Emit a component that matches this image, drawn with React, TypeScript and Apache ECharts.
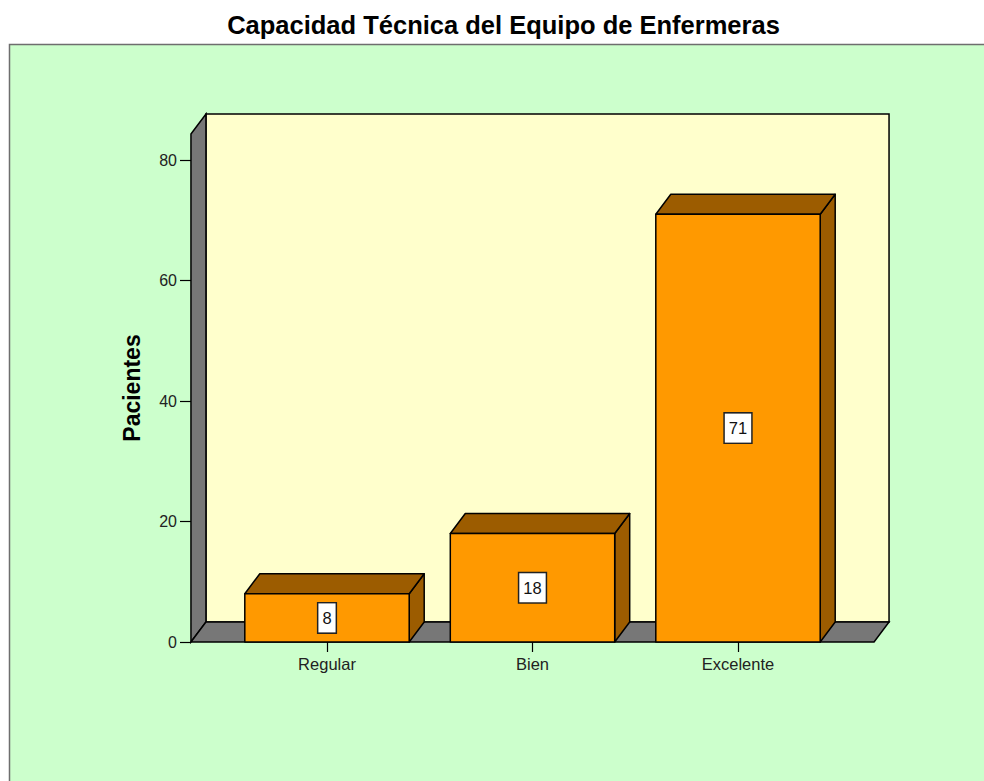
import React, { useEffect, useRef } from "react";
import * as echarts from "echarts";

const categories = ["Regular", "Bien", "Excelente"];
const values = [8, 18, 71];
const yMin = 0;
const yMax = 80;
const yInterval = 20;
const titleText = "Capacidad Técnica del Equipo de Enfermeras";
const yName = "Pacientes";

const DX = 15;
const DY = 20;
const FONT = '"Liberation Sans", Arial, sans-serif';

export default function App() {
  const ref = useRef<HTMLDivElement>(null);
  useEffect(() => {
    if (!ref.current) return;
    const chart = echarts.init(ref.current, null, { renderer: "svg" });
    const gridLeft = 224.25;
    const gridRight = 143.25;
    const option: any = {
      animation: false,
      backgroundColor: "#ffffff",
      graphic: [
        {
          type: "rect",
          z: -10,
          shape: { x: 9.5, y: 44.5, width: 1100, height: 900 },
          style: { fill: "#ccffcc", stroke: "#6e6e6e", lineWidth: 1.5 },
        },
        {
          type: "text",
          z: 20,
          x: 503.5,
          y: 25,
          style: {
            text: titleText,
            align: "center",
            verticalAlign: "middle",
            font: `bold 25.5px ${FONT}`,
            fill: "#000",
          },
        },
        {
          type: "text",
          z: 20,
          x: 131.5,
          y: 388,
          rotation: Math.PI / 2,
          style: {
            text: yName,
            align: "center",
            verticalAlign: "middle",
            font: `bold 23px ${FONT}`,
            fill: "#000",
          },
        },
      ],
      grid: { left: gridLeft, right: gridRight, top: 160, bottom: 139 },
      xAxis: {
        type: "category",
        data: categories,
        boundaryGap: true,
        axisLine: { show: false },
        axisTick: { show: true, alignWithLabel: true, length: 10, lineStyle: { color: "#000", width: 1.2 } },
        axisLabel: { color: "#222", fontFamily: FONT, fontSize: 16.5, margin: 13 },
        z: 10,
      },
      yAxis: {
        type: "value",
        min: yMin,
        max: yMax,
        interval: yInterval,
        offset: gridLeft - 191,
        axisLine: { show: false },
        axisTick: { show: true, length: 11, lineStyle: { color: "#000", width: 1.2 } },
        axisLabel: { color: "#222", fontFamily: FONT, fontSize: 16, margin: 14 },
        splitLine: { show: false },
        z: 10,
      },
      series: [
        {
          type: "custom",
          clip: false,
          z: 1,
          data: [[0, 0]],
          renderItem: (params: any, api: any) => {
            const p0 = api.coord([0, 0]);
            const p2 = api.coord([categories.length - 1, 0]);
            const band = api.size([1, 0])[0];
            const y0 = p0[1];
            const yTopTick = api.coord([0, yMax])[1];
            const left = p0[0] - band * 0.662;
            const right = p2[0] + band * 0.662;
            const yTop = yTopTick - 26;
            const stroke = { stroke: "#000", lineWidth: 1.5 };
            return {
              type: "group",
              children: [
                {
                  type: "rect",
                  shape: { x: left + DX, y: yTop - DY, width: right - left, height: y0 - yTop },
                  style: { fill: "#ffffcc", ...stroke },
                },
                {
                  type: "polygon",
                  shape: {
                    points: [
                      [left, yTop],
                      [left + DX, yTop - DY],
                      [left + DX, y0 - DY],
                      [left, y0],
                    ],
                  },
                  style: { fill: "#777777", ...stroke },
                },
                {
                  type: "polygon",
                  shape: {
                    points: [
                      [left, y0],
                      [left + DX, y0 - DY],
                      [right + DX, y0 - DY],
                      [right, y0],
                    ],
                  },
                  style: { fill: "#777777", ...stroke },
                },
              ],
            };
          },
        },
        {
          type: "custom",
          clip: false,
          z: 2,
          data: values.map((v, i) => [i, v]),
          renderItem: (params: any, api: any) => {
            const i = api.value(0);
            const v = api.value(1);
            const base = api.coord([i, 0]);
            const top = api.coord([i, v]);
            const band = api.size([1, 0])[0];
            const hw = band * 0.4;
            const x0 = base[0] - hw;
            const x1 = base[0] + hw;
            const y0 = base[1];
            const yt = top[1];
            const stroke = { stroke: "#000", lineWidth: 1.5, lineJoin: "round" };
            return {
              type: "group",
              children: [
                {
                  type: "polygon",
                  shape: {
                    points: [
                      [x1, yt],
                      [x1 + DX, yt - DY],
                      [x1 + DX, y0 - DY],
                      [x1, y0],
                    ],
                  },
                  style: { fill: "#9c5c00", ...stroke },
                },
                {
                  type: "polygon",
                  shape: {
                    points: [
                      [x0, yt],
                      [x0 + DX, yt - DY],
                      [x1 + DX, yt - DY],
                      [x1, yt],
                    ],
                  },
                  style: { fill: "#9c5c00", ...stroke },
                },
                {
                  type: "rect",
                  shape: { x: x0, y: yt, width: x1 - x0, height: y0 - yt },
                  style: { fill: "#ff9900", ...stroke },
                },
                {
                  type: "text",
                  style: {
                    text: String(v),
                    x: base[0],
                    y: (yt + y0) / 2,
                    align: "center",
                    verticalAlign: "middle",
                    fill: "#111",
                    font: `16.5px ${FONT}`,
                    backgroundColor: "#ffffff",
                    borderColor: "#222",
                    borderWidth: 1.5,
                    padding: [6, 4, 6, 4],
                  },
                },
              ],
            };
          },
        },
      ],
    };
    chart.setOption(option);
    return () => chart.dispose();
  }, []);
  return (
    <div
      ref={ref}
      style={{ position: "fixed", left: 0, top: 0, width: 984, height: 781 }}
    />
  );
}
